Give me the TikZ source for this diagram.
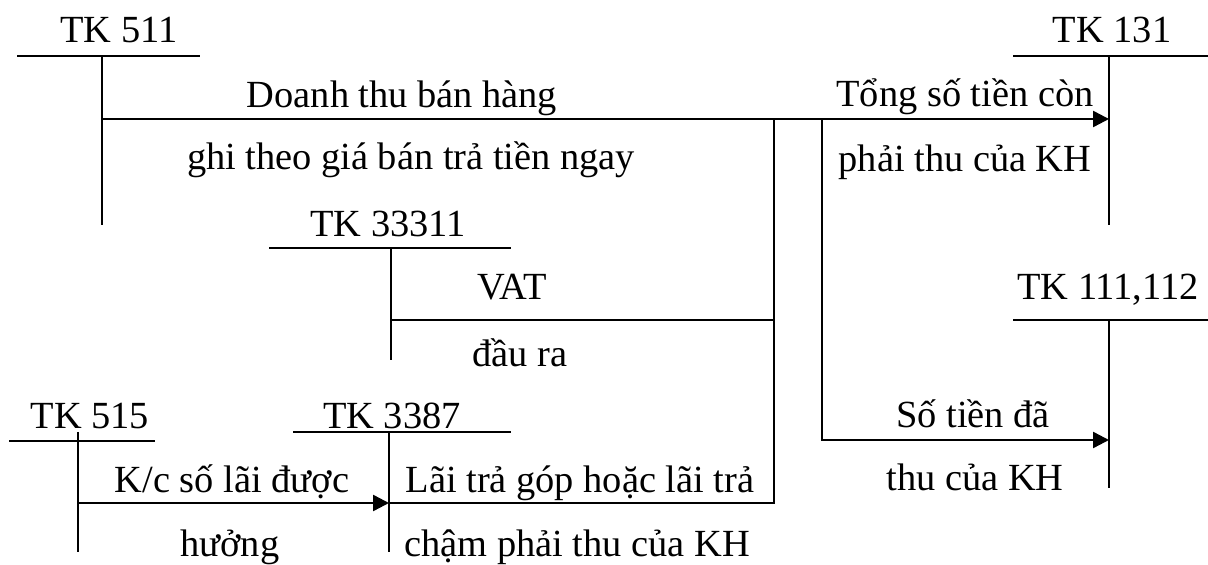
\documentclass[tikz,border=0pt]{standalone}
\usepackage{fontspec}
\setmainfont{Liberation Serif}
\usetikzlibrary{arrows.meta}
\begin{document}
\begin{tikzpicture}[x=0.5pt,y=-0.5pt,
  tline/.style={line width=1pt},
  flow/.style={line width=1.2pt},
  arr/.style={flow,-{Triangle[length=8pt,width=8pt]}},
  lbl/.style={anchor=base,inner sep=0pt,font=\fontsize{19.2}{23}\selectfont}]
\useasboundingbox (0,0) rectangle (1208,565);

% ---------- T accounts ----------
% TK 511
\node[lbl] (n511) at (119,43) {TK 511};
\coordinate (h511L) at (17,56);  \coordinate (h511R) at (200,56);
\coordinate (v511T) at (102,56); \coordinate (v511B) at (102,225);
\draw[tline] (h511L) -- (h511R) (v511T) -- (v511B);

% TK 131
\node[lbl] (n131) at (1112,43) {TK 131};
\coordinate (h131L) at (1013,56); \coordinate (h131R) at (1208,56);
\coordinate (v131T) at (1109,56); \coordinate (v131B) at (1109,225);
\draw[tline] (h131L) -- (h131R) (v131T) -- (v131B);

% TK 33311
\node[lbl] (n33311) at (388,237) {TK 33311};
\coordinate (h333L) at (269,248); \coordinate (h333R) at (511,248);
\coordinate (v333T) at (391,248); \coordinate (v333B) at (391,360);
\draw[tline] (h333L) -- (h333R) (v333T) -- (v333B);

% TK 111,112
\node[lbl] (n111) at (1108,300) {TK 111,112};
\coordinate (h111L) at (1013,320); \coordinate (h111R) at (1208,320);
\coordinate (v111T) at (1109,320); \coordinate (v111B) at (1109,488);
\draw[tline] (h111L) -- (h111R) (v111T) -- (v111B);

% TK 515
\node[lbl] (n515) at (90,429) {TK 515};
\coordinate (h515L) at (9,441);  \coordinate (h515R) at (155,441);
\coordinate (v515T) at (78,432); \coordinate (v515B) at (78,552);
\draw[tline] (h515L) -- (h515R) (v515T) -- (v515B);

% TK 3387
\node[lbl] (n3387) at (392,429) {TK 3387};
\coordinate (h3387L) at (293,432); \coordinate (h3387R) at (511,432);
\coordinate (v3387T) at (389,432); \coordinate (v3387B) at (389,552);
\draw[tline] (h3387L) -- (h3387R) (v3387T) -- (v3387B);

% ---------- flows ----------
\coordinate (f511) at (102,119);
\coordinate (t131) at (1109,119);
\coordinate (jA) at (774,119);
\coordinate (jAvat) at (774,320);
\coordinate (jAbot) at (774,503);
\coordinate (f333) at (391,320);
\coordinate (t3387) at (389,503);
\coordinate (f515) at (78,503);
\coordinate (jB) at (822,119);
\coordinate (jBbot) at (822,440);
\coordinate (t111) at (1109,440);

\draw[arr] (f511) -- (t131);
\draw[flow] (jA) -- (jAbot) -- (t3387);
\draw[flow] (f333) -- (jAvat);
\draw[arr] (jB) -- (jBbot) -- (t111);
\draw[arr] (f515) -- (t3387);

% ---------- labels ----------
\node[lbl] (l1a) at (402,108) {Doanh thu bán hàng};
\node[lbl] (l1b) at (411,170) {ghi theo giá bán trả tiền ngay};
\node[lbl] (l2a) at (965,107) {Tổng số tiền còn};
\node[lbl] (l2b) at (965,172) {phải thu của KH};
\node[lbl] (l3a) at (512,300) {VAT};
\node[lbl] (l3b) at (520,367) {đầu ra};
\node[lbl] (l4a) at (973,428) {Số tiền đã};
\node[lbl] (l4b) at (975,491) {thu của KH};
\node[lbl] (l5a) at (232,493) {K/c số lãi được};
\node[lbl] (l5b) at (230,556) {hưởng};
\node[lbl] (l6a) at (580,493) {Lãi trả góp hoặc lãi trả};
\node[lbl] (l6b) at (577,556) {chậm phải thu của KH};
\end{tikzpicture}
\end{document}
